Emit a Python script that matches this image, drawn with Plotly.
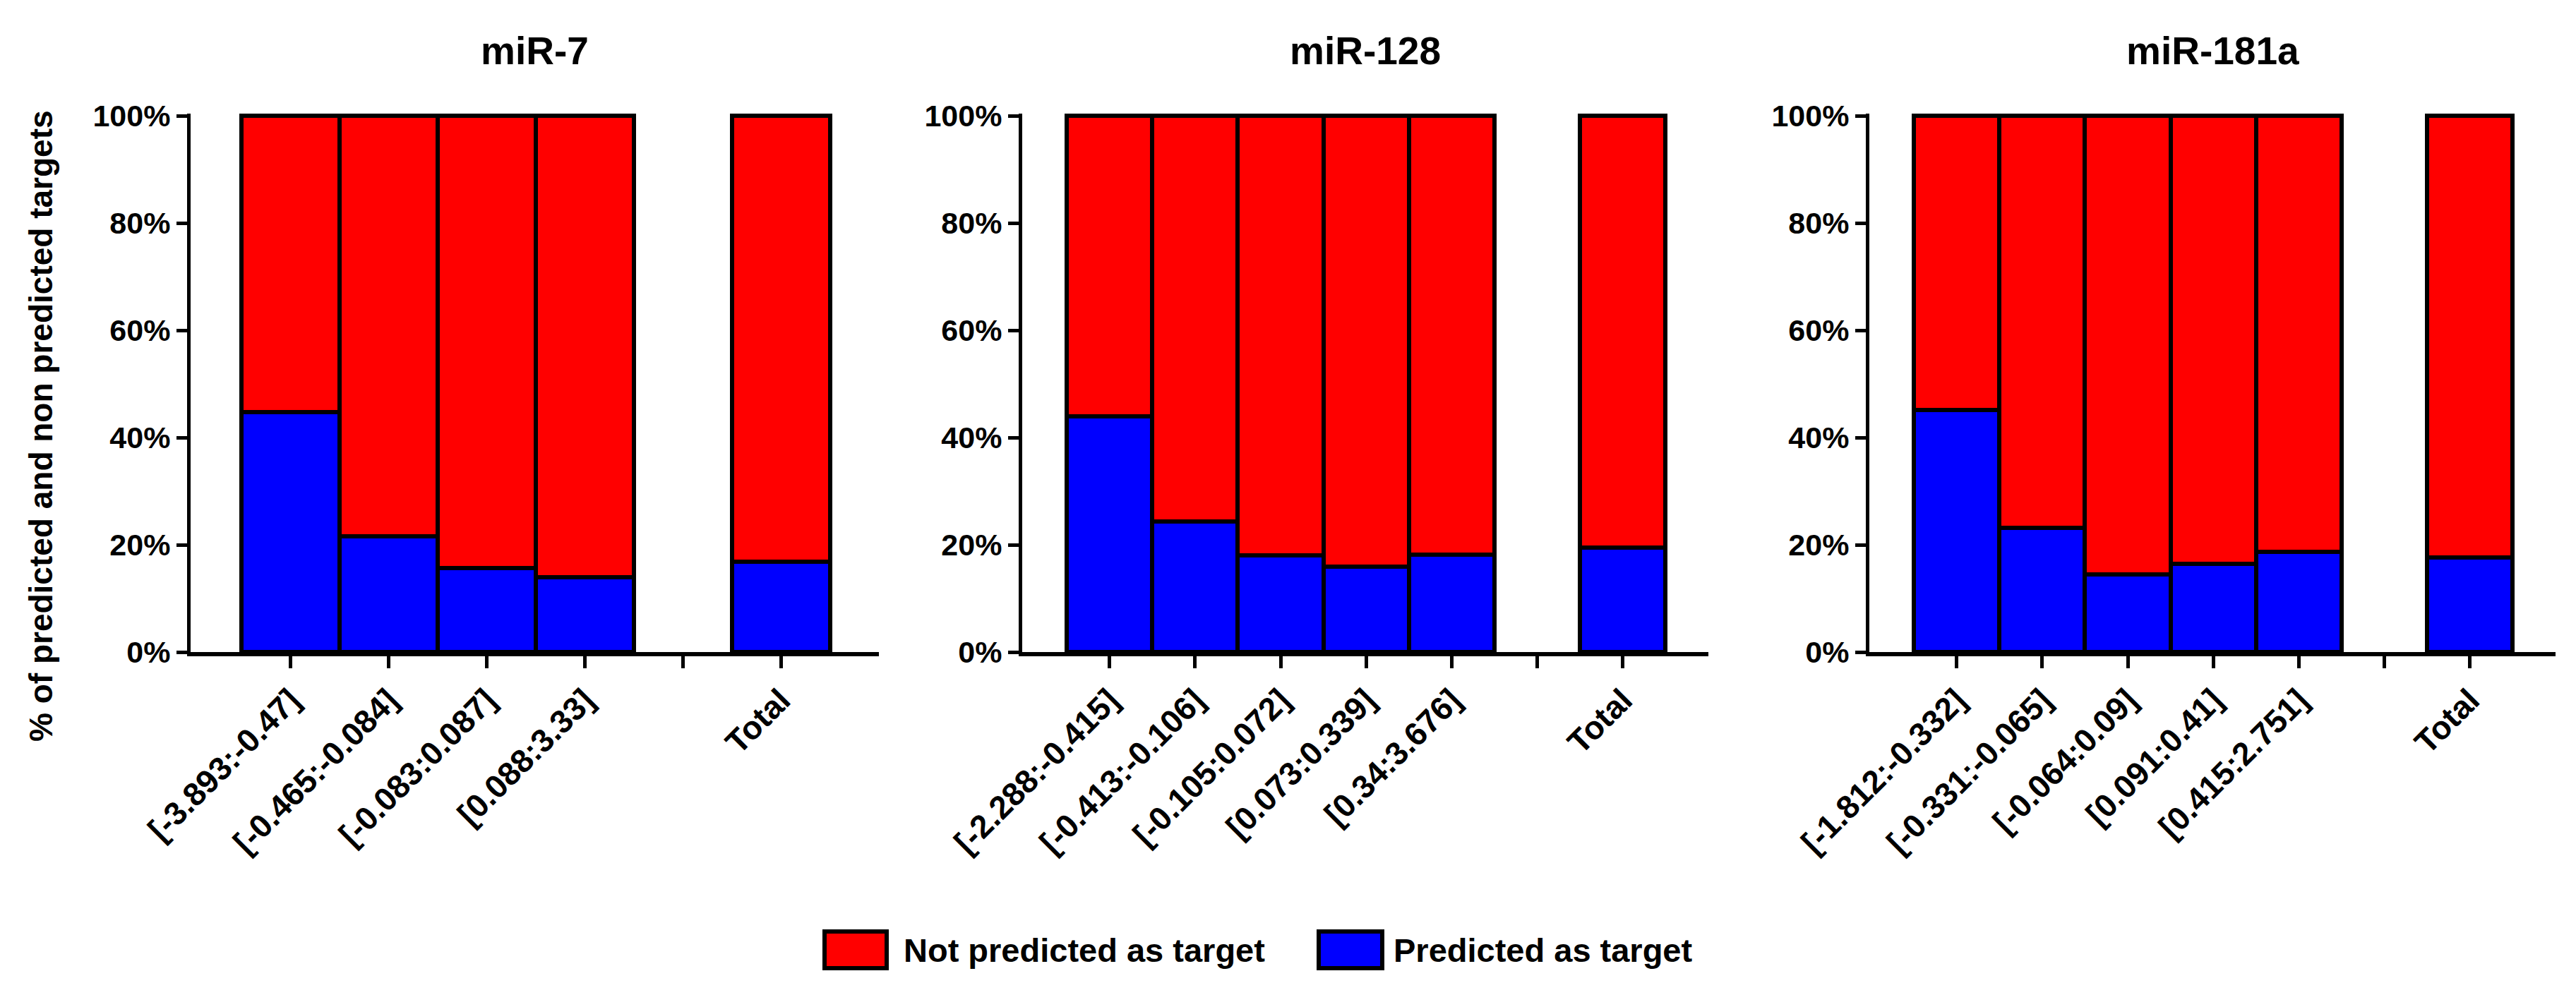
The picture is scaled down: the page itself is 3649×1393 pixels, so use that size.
import plotly.graph_objects as go

W, H = 3649, 1393

# ---------------- data ----------------
panel_titles = ["miR-7", "miR-128", "miR-181a"]

bins_mir7 = ["[-3.893:-0.47]", "[-0.465:-0.084]", "[-0.083:0.087]", "[0.088:3.33]"]
bins_mir128 = ["[-2.288:-0.415]", "[-0.413:-0.106]", "[-0.105:0.072]", "[0.073:0.339]", "[0.34:3.676]"]
bins_mir181a = ["[-1.812:-0.332]", "[-0.331:-0.065]", "[-0.064:0.09]", "[0.091:0.41]", "[0.415:2.751]"]
total_label = "Total"

# % predicted as target (blue, bottom segment)
pred_mir7 = [44.8, 21.6, 15.7, 14.0]
pred_mir7_total = 16.9
pred_mir128 = [43.9, 24.3, 18.0, 15.9, 18.1]
pred_mir128_total = 19.5
pred_mir181a = [45.1, 23.1, 14.5, 16.5, 18.7]
pred_mir181a_total = 17.6

# % not predicted as target (red, top segment)
notpred_mir7 = [55.2, 78.4, 84.3, 86.0]
notpred_mir7_total = 83.1
notpred_mir128 = [56.1, 75.7, 82.0, 84.1, 81.9]
notpred_mir128_total = 80.5
notpred_mir181a = [54.9, 76.9, 85.5, 83.5, 81.3]
notpred_mir181a_total = 82.4

series_names = ["Not predicted as target", "Predicted as target"]
y_ticks = [0, 20, 40, 60, 80, 100]
y_ticktext = [f"{v}%" for v in y_ticks]

# ---------------- style ----------------
RED = "#FF0000"
BLUE = "#0000FF"
FONT = "Liberation Sans"
GAP = " "  # empty category separating bins from Total

panels = [
    (bins_mir7, pred_mir7, pred_mir7_total, notpred_mir7, notpred_mir7_total),
    (bins_mir128, pred_mir128, pred_mir128_total, notpred_mir128, notpred_mir128_total),
    (bins_mir181a, pred_mir181a, pred_mir181a_total, notpred_mir181a, notpred_mir181a_total),
]

# domains (pixel positions converted to paper fractions)
x_domains_px = [(262, 1237), (1440, 2412), (2640, 3612)]
y_bottom_px, y_top_px = 916, 153

fig = go.Figure()
layout = {}
annotations = []
shapes = []

for i, (bins, pred, pred_t, notp, notp_t) in enumerate(panels):
    n = i + 1
    xa = "x" if n == 1 else f"x{n}"
    ya = "y" if n == 1 else f"y{n}"
    cats = bins + [GAP, total_label]
    yb = pred + [None, pred_t]
    yr = notp + [None, notp_t]
    fig.add_trace(go.Bar(x=cats, y=yb, name=series_names[1], marker=dict(color=BLUE, line=dict(color="black", width=6)),
                         xaxis=xa, yaxis=ya, showlegend=False))
    fig.add_trace(go.Bar(x=cats, y=yr, name=series_names[0], marker=dict(color=RED, line=dict(color="black", width=6)),
                         xaxis=xa, yaxis=ya, showlegend=False))
    x0, x1 = x_domains_px[i]
    xkey = "xaxis" if n == 1 else f"xaxis{n}"
    ykey = "yaxis" if n == 1 else f"yaxis{n}"
    layout[xkey] = dict(
        domain=[x0 / W, x1 / W], anchor=ya, type="category",
        categoryorder="array", categoryarray=cats,
        range=[-1.02, len(cats)], automargin=False,
        showline=True, linecolor="black", linewidth=6,
        ticks="outside", ticklen=17, tickwidth=5, tickcolor="black",
        tickangle=-45, tickfont=dict(family=FONT, size=46, color="black", weight="bold"),
        showgrid=False, zeroline=False, fixedrange=True,
    )
    layout[ykey] = dict(
        domain=[1 - y_bottom_px / H, 1 - y_top_px / H], anchor=xa,
        range=[0, 100.4], tickvals=y_ticks, ticktext=y_ticktext, automargin=False,
        showline=True, linecolor="black", linewidth=5,
        ticks="outside", ticklen=15, tickwidth=5, tickcolor="black",
        tickfont=dict(family=FONT, size=43, color="black", weight="bold"),
        showgrid=False, zeroline=False, fixedrange=True,
    )
    annotations.append(dict(
        text=panel_titles[i], xref="paper", yref="paper",
        x=(x0 + x1) / 2 / W, y=1 - 64 / H, xanchor="center", yanchor="middle",
        showarrow=False, font=dict(family=FONT, size=55, color="black", weight="bold"),
    ))

# y-axis title
annotations.append(dict(
    text="% of predicted and non predicted targets", xref="paper", yref="paper",
    x=50 / W, y=1 - 596 / H, xanchor="center", yanchor="middle", textangle=-90,
    showarrow=False, font=dict(family=FONT, size=46, color="black", weight="bold"),
))

# legend (drawn manually to match large boxed swatches)
legend_items = [
    (series_names[0], RED, 1160, 1248, 1270),
    (series_names[1], BLUE, 1860, 1950, 1964),
]
ly = 1338
for name, col, sx0, sx1, tx in legend_items:
    shapes.append(dict(
        type="rect", xref="paper", yref="paper",
        x0=sx0 / W, x1=sx1 / W, y0=1 - (ly + 26) / H, y1=1 - (ly - 26) / H,
        fillcolor=col, line=dict(color="black", width=6),
    ))
    annotations.append(dict(
        text=name, xref="paper", yref="paper", x=tx / W, y=1 - ly / H,
        xanchor="left", yanchor="middle", showarrow=False,
        font=dict(family=FONT, size=47, color="black", weight="bold"),
    ))

fig.update_layout(
    width=W, height=H,
    margin=dict(l=0, r=0, t=0, b=0, autoexpand=False),
    paper_bgcolor="white", plot_bgcolor="white",
    barmode="stack", bargap=0,
    showlegend=False,
    annotations=annotations, shapes=shapes,
    **layout,
)

fig.write_html("out.html")
